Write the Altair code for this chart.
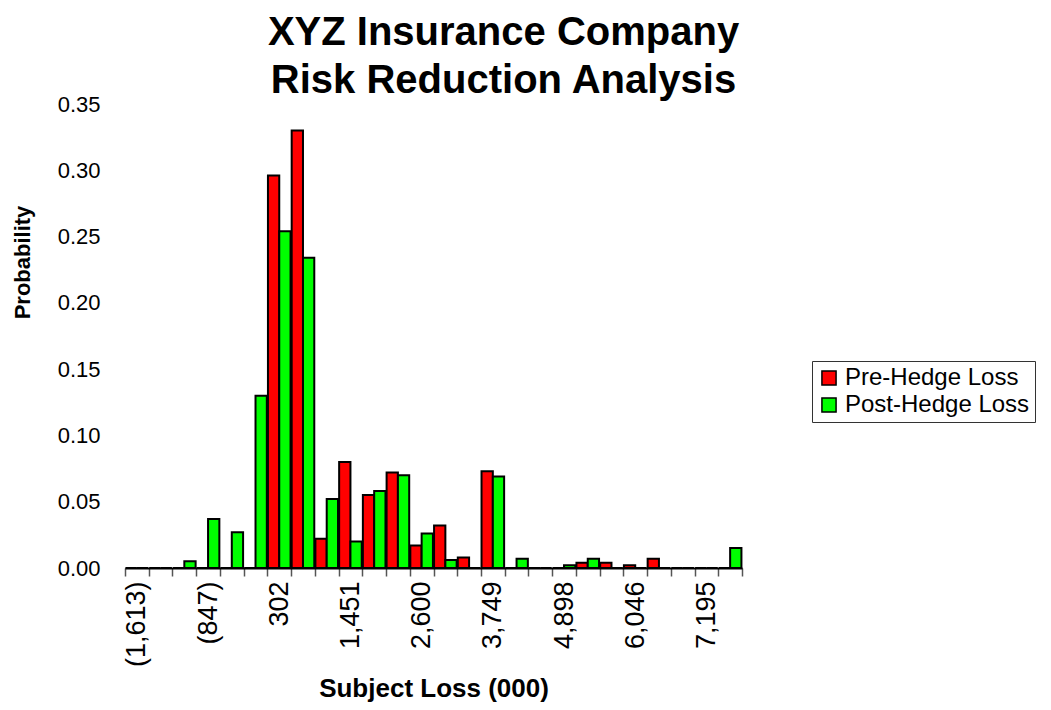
import altair as alt
import pandas as pd

categories = ["(1,613)", "(1,358)", "(1,102)", "(847)", "(464)", "(81)", "302", "685",
              "1,068", "1,451", "1,834", "2,217", "2,600", "2,983", "3,366", "3,749",
              "4,132", "4,515", "4,898", "5,281", "5,664", "6,046", "6,429", "6,812",
              "7,195", "7,578"]
pre_hedge = [0, 0, 0, 0, 0, 0, 0.296, 0.330, 0.022, 0.080, 0.055, 0.072, 0.017,
             0.032, 0.008, 0.073, 0, 0, 0, 0.004, 0.004, 0.002, 0.007, 0, 0, 0]
post_hedge = [0, 0, 0.005, 0.037, 0.027, 0.130, 0.254, 0.234, 0.052, 0.020, 0.058,
              0.070, 0.026, 0.006, 0, 0.069, 0.007, 0, 0.002, 0.007, 0, 0, 0, 0, 0, 0.015]
series_names = ["Pre-Hedge Loss", "Post-Hedge Loss"]
series_colors = ["#FF0000", "#00FF00"]
shown_labels = ["(1,613)", "(847)", "302", "1,451", "2,600", "3,749", "4,898", "6,046", "7,195"]
y_ticks = [0, 0.05, 0.10, 0.15, 0.20, 0.25, 0.30, 0.35]

rows = []
for c, a, b in zip(categories, pre_hedge, post_hedge):
    rows.append({"loss": c, "series": series_names[0], "prob": a})
    rows.append({"loss": c, "series": series_names[1], "prob": b})
df = pd.DataFrame(rows)

label_expr = ("indexof([" + ",".join("'" + s + "'" for s in shown_labels) +
              "], datum.label) >= 0 ? datum.label : ''")

FONT = "Liberation Sans"

chart = alt.Chart(df).mark_bar(stroke="black", strokeWidth=2).encode(
    x=alt.X("loss:N", sort=categories,
            scale=alt.Scale(paddingInner=0, paddingOuter=0),
            axis=alt.Axis(title="Subject Loss (000)", labelAngle=270, tickBand="extent",
                          labelExpr=label_expr, labelOverlap=False,
                          labelFontSize=27, labelColor="black", labelPadding=5,
                          labelLimit=0,
                          tickSize=8, tickColor="#555", tickWidth=1.5,
                          domainColor="black", domainWidth=2,
                          titleFontSize=26, titleFontWeight="bold", titleColor="black",
                          titlePadding=9)),
    xOffset=alt.XOffset("series:N", sort=series_names,
                        scale=alt.Scale(paddingInner=0, paddingOuter=0.05)),
    y=alt.Y("prob:Q", scale=alt.Scale(domain=[0, 0.35], nice=False),
            axis=alt.Axis(values=y_ticks, format=".2f", grid=False, domain=False,
                          ticks=False, labelFontSize=22, labelColor="black",
                          labelPadding=25, title="Probability", titleFontSize=22,
                          titleFontWeight="bold", titleColor="black", titleAngle=270,
                          titleX=-103, titleY=158, titleAlign="center",
                          titleBaseline="middle")),
    color=alt.Color("series:N", sort=series_names,
                    scale=alt.Scale(domain=series_names, range=series_colors),
                    legend=alt.Legend(title=None, orient="none", legendX=687, legendY=257,
                                      symbolType="square", symbolSize=200,
                                      symbolStrokeColor="black", symbolStrokeWidth=1.5,
                                      labelFontSize=24, labelColor="black", labelLimit=0,
                                      strokeColor="#333", padding=5, rowPadding=3)),
).properties(
    width=617, height=464,
    autosize=alt.AutoSizeParams(type="none"),
    padding={"left": 117, "top": 96, "right": 301, "bottom": 134},
    title=alt.TitleParams(["XYZ Insurance Company", "Risk Reduction Analysis"],
                          fontSize=40, fontWeight="bold", font=FONT, color="black",
                          lineHeight=48, anchor="middle", dx=70, offset=-8),
).configure(font=FONT).configure_view(stroke=None)

chart.save("out.html", embed_options={"renderer": "svg", "actions": False})
